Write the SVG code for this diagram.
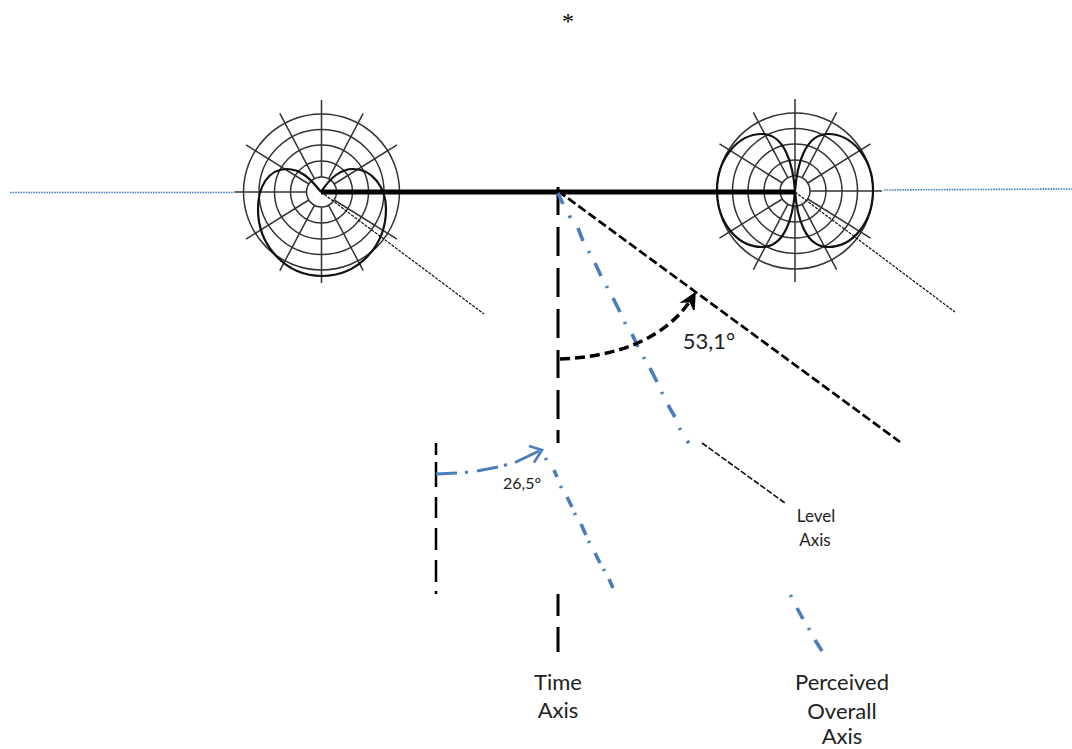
<svg xmlns="http://www.w3.org/2000/svg" xmlns:xlink="http://www.w3.org/1999/xlink" width="1072" height="749" viewBox="0 0 1072 749">
<style>
.grid{fill:none;stroke:#333;stroke-width:1.5}
.lobe{fill:none;stroke:#111;stroke-width:2.2}
.thin{fill:none;stroke:#111;stroke-width:1.2;stroke-dasharray:3 1.2}
.blk{fill:none;stroke:#000;stroke-width:3}
.blkd{fill:none;stroke:#000;stroke-width:2.7;stroke-dasharray:9 3.6}
.blu{fill:none;stroke:#4a7ebb;stroke-width:3.6}
.dot{fill:none;stroke:#4a7ebb;stroke-width:1.6;stroke-dasharray:1.6 1}
text{font-family:"Lato","Liberation Sans",sans-serif;fill:#222;text-anchor:middle}
</style>
<defs>
<g id="polar" class="grid">
<circle r="15"/><circle r="31"/><circle r="47"/><circle r="62.5"/><circle r="78"/>
<path d="M0-15V-92M0 15V91M-15 0H-87M15 0H87M7-13.2L41.7-78.6M-7-13.2L-41.7-78.6M7 13.2L41.7 78.6M-7 13.2L-41.7 78.6M12.7-8L75.5-47.2M-12.7-8L-75.5-47.2M12.7 8L75.5 47.2M-12.7 8L-75.5 47.2"/>
</g>
</defs>
<rect width="1072" height="749" fill="#fff"/>
<g id="polar-left">
<use xlink:href="#polar" href="#polar" x="321.5" y="192"/>
<path class="lobe" d="M321,192C310,178 300,169 287,169C268,169 258,187 258,209C258,247 287,276 322,276C357,276 386,247 386,209C386,187 372,169 353,169C340,169 330,178 321,192"/>
</g>
<g id="polar-right">
<use xlink:href="#polar" href="#polar" x="795" y="191"/>
<path class="lobe" d="M795,191C793,165 785,134 762,134C737,134 717,160 717,190C717,222 737,247 762,247C785,247 793,217 795,191C797,165 805,134 828,134C853,134 873,160 873,190C873,222 853,247 828,247C805,247 797,217 795,191"/>
</g>
<g id="connectors">
<path class="dot" d="M10,192.500H234M884,190L1072,189"/>
<path class="thin" d="M321,192L484,314M795,192L955,312"/>
<path d="M321,192H795" fill="none" stroke="#000" stroke-width="5"/>
<path class="blk" d="M558,187V215M558,227V256M558,268V297M558,309V338M558,350V378M558,390V419M558,430V443M558,594V616M558,627V652"/>
<path class="blk" style="stroke-width:2.500" d="M436,443V455M436,462V487M436,497V518M436,528V550M436,560V582M436,591V594"/>
<path class="blkd" d="M558,191L900,442"/>
<path class="thin" style="stroke-width:1.6;stroke-dasharray:6 2" d="M702,443L785,503"/>
<path class="blu" d="M558,193L563,204M569.500,215.500L570.500,218M578,228L583,241M588.500,251L589.500,253M595,263L601,276M606.500,286L607.500,288M613,298L620,312M624.500,322L625.500,324M632,334L638,347M643.500,357L644.500,359M650,368L657,382M661.500,392L662.500,394M668,405L675,417M679.500,428L680.500,430M687,441L689,443"/>
<path class="blu" d="M545.500,458L546.500,460M554,470L557,477M560.500,486L561.500,488M567,497L572,507M574.500,513L575.500,515M581,524L586,535M588.500,541L589.500,543M595,553L600,563M603.500,569L604.500,571M609,579L613,588M790.500,595L791.500,597M797,608L803,619M808.500,628L809.500,630M815,640L822,651"/>
<path class="blu" style="stroke-width:3" d="M436,474L457,473M465,472.500L468,472M477,471L498,467M504,465.500L507,464.500M515,462.500L539,451"/>
<path fill="none" stroke="#4a7ebb" stroke-width="2.600" d="M534,462.500L542,450L529,446"/>
<path fill="none" stroke="#000" stroke-width="3.500" stroke-dasharray="10 5" d="M560,359C615,357 665,340 692,298"/>
<path fill="#000" d="M695,293L682,302L690,301.500L694,310Z" stroke="#000" stroke-width="1.500"/>
</g>
<g id="label-star"><text x="568" y="29" style="font-family:'Liberation Serif',serif;fill:#000" font-size="24">*</text></g>
<g id="label-53"><text x="709" y="349" font-size="22">53,1°</text></g>
<g id="label-26"><text x="522" y="489" font-size="16">26,5°</text></g>
<g id="label-level"><text x="816" y="522" font-size="17">Level</text><text x="815" y="546" font-size="17">Axis</text></g>
<g id="label-time"><text x="558" y="690" font-size="22">Time</text><text x="558" y="718" font-size="22">Axis</text></g>
<g id="label-perceived"><text x="842" y="690" font-size="22">Perceived</text><text x="842" y="719" font-size="22">Overall</text><text x="842" y="744" font-size="22">Axis</text></g>
</svg>
